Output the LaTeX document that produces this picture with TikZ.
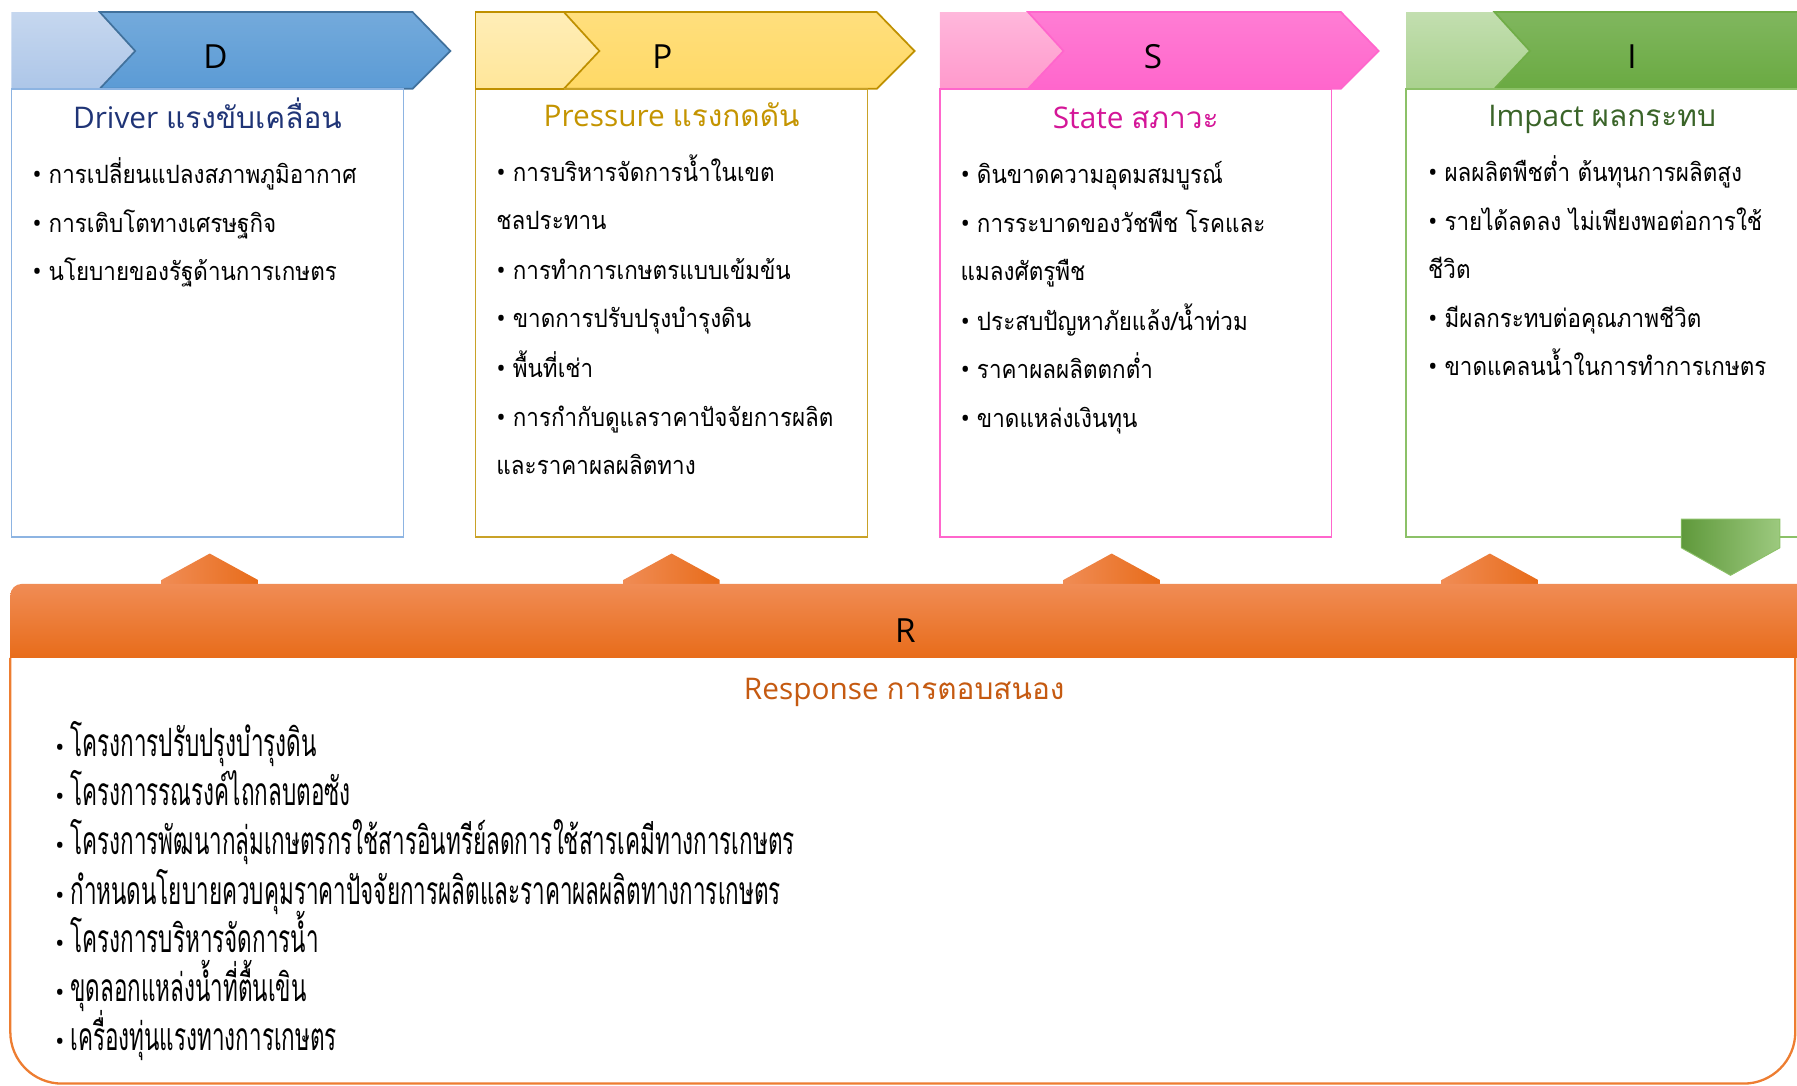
\documentclass[tikz,border=0pt]{standalone}
\usepackage{fontspec}
\setmainfont{Open Sans}
\newfontfamily\thaifont[Script=Thai]{Loma}
\newfontfamily\thaiitem[Script=Thai,FakeStretch=0.89]{Loma}
\newfontfamily\thainarrow[Script=Thai,FakeStretch=0.577]{Loma}
\usepackage{tikz}
\usetikzlibrary{calc,positioning}

\newcommand{\itm}{{\normalfont\textbullet}\hspace{6pt}}
\newcommand{\ritm}{{\normalfont\fontsize{22}{26}\selectfont\textbullet}\hspace{5pt}}

\begin{document}
\begin{tikzpicture}[x=1pt,y=-1pt,
  item/.style={anchor=base west, inner sep=0pt, font=\thaiitem\fontsize{22}{26}\selectfont},
  ritem/.style={anchor=base west, inner sep=0pt, font=\thainarrow\fontsize{34}{40}\selectfont},
  headtitle/.style={anchor=base, inner sep=0pt, font=\fontsize{26}{31}\selectfont},
  letter/.style={anchor=base, inner sep=0pt, font=\fontsize{29}{34}\selectfont}]

  % Define colors for the five parts
  \definecolor{lightD}{RGB}{173,198,232}
  \definecolor{darkD}{RGB}{91,155,213}
  \definecolor{lineD}{RGB}{65,113,156}
  \definecolor{boxD}{RGB}{141,180,226}
  \definecolor{textD}{RGB}{31,52,118}
  \definecolor{lightP}{RGB}{255,230,153}
  \definecolor{darkP}{RGB}{255,217,102}
  \definecolor{lineP}{RGB}{191,144,0}
  \definecolor{boxP}{RGB}{201,162,40}
  \definecolor{textP}{RGB}{196,148,0}
  \definecolor{lightS}{RGB}{255,153,204}
  \definecolor{darkS}{RGB}{255,102,204}
  \definecolor{lineS}{RGB}{255,102,204}
  \definecolor{boxS}{RGB}{255,102,204}
  \definecolor{textS}{RGB}{212,22,152}
  \definecolor{lightI}{RGB}{169,209,142}
  \definecolor{darkI}{RGB}{106,170,66}
  \definecolor{lineI}{RGB}{112,173,71}
  \definecolor{boxI}{RGB}{140,193,104}
  \definecolor{textI}{RGB}{58,100,40}
  \definecolor{barTop}{RGB}{240,140,85}
  \definecolor{barMid}{RGB}{244,125,43}
  \definecolor{barBot}{RGB}{232,108,26}
  \definecolor{boxR}{RGB}{237,125,49}
  \definecolor{textR}{RGB}{197,90,17}

  % Page frame
  \clip (0,0) rectangle (1568,947);

  % Header arrows and boxes
  \foreach \x/\c in {10/D,415/P,820/S,1227/I} {
    \shade[top color=light\c!70!white, bottom color=light\c]
      (\x,10.5) -- (\x+77,10.5) -- (\x+108,44.5) -- (\x+77,77.5) -- (\x,77.5) -- cycle;
    \shadedraw[draw=line\c, line width=1.5pt, top color=dark\c!85!white, bottom color=dark\c]
      (\x+77,10.5) -- (\x+350,10.5) -- (\x+383,44.5) -- (\x+350,77.5) -- (\x+77,77.5) -- (\x+108,44.5) -- cycle;
    \draw[draw=box\c, line width=1.3pt] (\x,77.5) rectangle (\x+342,468.5);
  }
  \draw[lineP, line width=1.5pt] (492,10.5) -- (415,10.5) -- (415,77.5) -- (492,77.5);

  % Header letters
  \node[letter] (D-letter) at (188,60) {D};
  \node[letter] (P-letter) at (578,60) {P};
  \node[letter] (S-letter) at (1006,60) {S};
  \node[letter] (I-letter) at (1424,60) {I};

  % Titles
  \node[headtitle, textD] (D-title) at (181,112) {Driver {\thaifont แรงขับเคลื่อน}};
  \node[headtitle, textP] (P-title) at (586,110) {Pressure {\thaifont แรงกดดัน}};
  \node[headtitle, textS] (S-title) at (991,112) {State {\thaifont สภาวะ}};
  \node[headtitle, textI] (I-title) at (1398,110) {Impact {\thaifont ผลกระทบ}};

  % Driver
  \node[item] (D-1) at (28,160) {\itm การเปลี่ยนแปลงสภาพภูมิอากาศ};
  \node[item] (D-2) at (28,203) {\itm การเติบโตทางเศรษฐกิจ};
  \node[item] (D-3) at (28,245) {\itm นโยบายของรัฐด้านการเกษตร};

  % Pressure
  \node[item] (P-1) at (433,158) {\itm การบริหารจัดการน้ำในเขต};
  \node[item] (P-1b) at (433,200) {ชลประทาน};
  \node[item] (P-2) at (433,244) {\itm การทำการเกษตรแบบเข้มข้น};
  \node[item] (P-3) at (433,286) {\itm ขาดการปรับปรุงบำรุงดิน};
  \node[item] (P-4) at (433,329) {\itm พื้นที่เช่า};
  \node[item] (P-5) at (433,372) {\itm การกำกับดูแลราคาปัจจัยการผลิต};
  \node[item] (P-5b) at (433,414) {และราคาผลผลิตทาง};

  % State
  \node[item] (S-1) at (838,160) {\itm ดินขาดความอุดมสมบูรณ์};
  \node[item] (S-2) at (838,203) {\itm การระบาดของวัชพืช โรคและ};
  \node[item] (S-2b) at (838,245) {แมลงศัตรูพืช};
  \node[item] (S-3) at (838,288) {\itm ประสบปัญหาภัยแล้ง/น้ำท่วม};
  \node[item] (S-4) at (838,330) {\itm ราคาผลผลิตตกต่ำ};
  \node[item] (S-5) at (838,373) {\itm ขาดแหล่งเงินทุน};

  % Impact
  \node[item] (I-1) at (1246,158) {\itm ผลผลิตพืชต่ำ ต้นทุนการผลิตสูง};
  \node[item] (I-2) at (1246,201) {\itm รายได้ลดลง ไม่เพียงพอต่อการใช้};
  \node[item] (I-2b) at (1246,243) {ชีวิต};
  \node[item] (I-3) at (1246,286) {\itm มีผลกระทบต่อคุณภาพชีวิต};
  \node[item] (I-4) at (1246,328) {\itm ขาดแคลนน้ำในการทำการเกษตร};

  % Up arrows from the response bar
  \foreach \x in {183,586,970,1300} {
    \shade[left color=barTop, middle color=barMid, right color=barBot]
      (\x-42,511) -- (\x-42,506) -- (\x,483) -- (\x+42,506) -- (\x+42,511) -- cycle;
  }

  % Down arrow from impact
  \shadedraw[draw=boxI, line width=0.8pt, left color=darkI!90!black, right color=lightI!80!darkI]
    (1467,453) -- (1553,453) -- (1553,478) -- (1510,502) -- (1467,478) -- cycle;

  % Response bar and box
  \shade[top color=barTop, middle color=barMid, bottom color=barBot]
    (9,574) {[rounded corners=10pt] -- (9,509.5) -- (1600,509.5)} -- (1600,574) -- cycle;
  \draw[boxR, line width=2pt]
    (9,574) {[rounded corners=45pt] -- (9,945.5) -- (1566.5,945.5)} -- (1566.5,574);
  \node[letter] (R-letter) at (790,561) {R};
  \node[headtitle, textR] (R-title) at (789,610) {Response {\thaifont การตอบสนอง}};

  % Response items
  \node[ritem] (R-1) at (48,660) {\ritm โครงการปรับปรุงบำรุงดิน};
  \node[ritem] (R-2) at (48,703) {\ritm โครงการรณรงค์ไถกลบตอซัง};
  \node[ritem] (R-3) at (48,746) {\ritm โครงการพัฒนากลุ่มเกษตรกรใช้สารอินทรีย์ลดการใช้สารเคมีทางการเกษตร};
  \node[ritem] (R-4) at (48,789) {\ritm กำหนดนโยบายควบคุมราคาปัจจัยการผลิตและราคาผลผลิตทางการเกษตร};
  \node[ritem] (R-5) at (48,831) {\ritm โครงการบริหารจัดการน้ำ};
  \node[ritem] (R-6) at (48,874) {\ritm ขุดลอกแหล่งน้ำที่ตื้นเขิน};
  \node[ritem] (R-7) at (48,917) {\ritm เครื่องทุ่นแรงทางการเกษตร};

\end{tikzpicture}
\end{document}
